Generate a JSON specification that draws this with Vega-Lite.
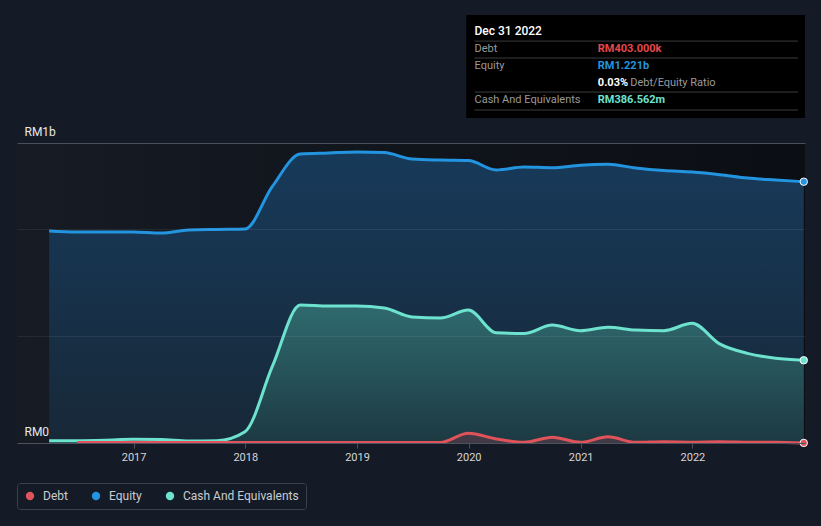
{
  "$schema": "https://vega.github.io/schema/vega-lite/v6.json",
  "width": 788,
  "height": 428,
  "autosize": {"type": "none"},
  "padding": {"left": 17, "top": 15, "right": 16, "bottom": 83},
  "background": "#151b26",
  "config": {
    "view": {"stroke": null},
    "font": "Roboto",
    "legend": {
      "orient": "none",
      "legendX": 0,
      "legendY": 468,
      "direction": "horizontal",
      "strokeColor": "#3b414c",
      "cornerRadius": 3,
      "padding": 7,
      "symbolType": "circle",
      "symbolSize": 70,
      "symbolStrokeWidth": 0,
      "symbolOpacity": 1,
      "labelColor": "#c9ccd1",
      "labelFontSize": 12,
      "labelOffset": 7,
      "columnPadding": 22,
      "title": null
    }
  },
  "data": {
    "format": {"parse": {"date": "date"}},
    "values": [
      {"date": "2016-03-31", "Equity": 991000000, "Cash And Equivalents": 11000000, "Debt": null},
      {"date": "2016-06-30", "Equity": 986000000, "Cash And Equivalents": 11000000, "Debt": 2000000},
      {"date": "2016-09-30", "Equity": 986000000, "Cash And Equivalents": 13000000, "Debt": 2000000},
      {"date": "2016-12-31", "Equity": 986000000, "Cash And Equivalents": 17000000, "Debt": 2000000},
      {"date": "2017-03-31", "Equity": 981000000, "Cash And Equivalents": 16000000, "Debt": 2000000},
      {"date": "2017-06-30", "Equity": 995000000, "Cash And Equivalents": 9000000, "Debt": 2000000},
      {"date": "2017-09-30", "Equity": 998000000, "Cash And Equivalents": 11000000, "Debt": 2000000},
      {"date": "2017-12-31", "Equity": 1000000000, "Cash And Equivalents": 53000000, "Debt": 2000000},
      {"date": "2018-03-31", "Equity": 1200000000, "Cash And Equivalents": 360000000, "Debt": 2000000},
      {"date": "2018-06-30", "Equity": 1350000000, "Cash And Equivalents": 645000000, "Debt": 2000000},
      {"date": "2018-09-30", "Equity": 1355000000, "Cash And Equivalents": 640000000, "Debt": 2000000},
      {"date": "2018-12-31", "Equity": 1360000000, "Cash And Equivalents": 640000000, "Debt": 2000000},
      {"date": "2019-03-31", "Equity": 1357000000, "Cash And Equivalents": 631000000, "Debt": 2000000},
      {"date": "2019-06-30", "Equity": 1327000000, "Cash And Equivalents": 589000000, "Debt": 2000000},
      {"date": "2019-09-30", "Equity": 1322000000, "Cash And Equivalents": 584000000, "Debt": 2000000},
      {"date": "2019-12-31", "Equity": 1320000000, "Cash And Equivalents": 621000000, "Debt": 45000000},
      {"date": "2020-03-31", "Equity": 1276000000, "Cash And Equivalents": 515000000, "Debt": 19000000},
      {"date": "2020-06-30", "Equity": 1290000000, "Cash And Equivalents": 512000000, "Debt": 3000000},
      {"date": "2020-09-30", "Equity": 1286000000, "Cash And Equivalents": 551000000, "Debt": 27000000},
      {"date": "2020-12-31", "Equity": 1298000000, "Cash And Equivalents": 525000000, "Debt": 3000000},
      {"date": "2021-03-31", "Equity": 1302000000, "Cash And Equivalents": 541000000, "Debt": 29000000},
      {"date": "2021-06-30", "Equity": 1285000000, "Cash And Equivalents": 528000000, "Debt": 3000000},
      {"date": "2021-09-30", "Equity": 1273000000, "Cash And Equivalents": 525000000, "Debt": 6000000},
      {"date": "2021-12-31", "Equity": 1266000000, "Cash And Equivalents": 559000000, "Debt": 4000000},
      {"date": "2022-03-31", "Equity": 1254000000, "Cash And Equivalents": 463000000, "Debt": 6000000},
      {"date": "2022-06-30", "Equity": 1238000000, "Cash And Equivalents": 419000000, "Debt": 4000000},
      {"date": "2022-09-30", "Equity": 1229000000, "Cash And Equivalents": 396000000, "Debt": 3000000},
      {"date": "2022-12-31", "Equity": 1221000000, "Cash And Equivalents": 386562000, "Debt": 403000}
    ]
  },
  "layer": [
    {
      "data": {"values": [{}]},
      "mark": {"type": "rect", "color": {"gradient": "linear", "x1": 0, "y1": 0, "x2": 1, "y2": 0, "stops": [{"offset": 0, "color": "#161b24"}, {"offset": 1, "color": "#0b0e13"}]}},
      "encoding": {
        "x": {"datum": {"year": 2015, "month": 12, "date": 17, "utc": true}, "type": "temporal", "title": null,
          "scale": {"type": "utc", "domain": [{"year": 2015, "month": 12, "date": 17, "utc": true}, {"year": 2023, "month": 1, "date": 4, "utc": true}]},
          "axis": {"values": [{"year": 2017, "utc": true}, {"year": 2018, "utc": true}, {"year": 2019, "utc": true}, {"year": 2020, "utc": true}, {"year": 2021, "utc": true}, {"year": 2022, "utc": true}],
            "format": "%Y", "zindex": 1, "grid": false, "domainColor": "#4b525d", "tickColor": "#4b525d", "tickSize": 5, "labelColor": "#d6d6d6", "labelFontSize": 11, "labelPadding": 3}},
        "x2": {"datum": {"year": 2023, "month": 1, "date": 4, "utc": true}},
        "y": {"datum": 0, "type": "quantitative", "title": null,
          "scale": {"domain": [0, 2000000000]},
          "axis": {"values": [0, 500000000, 1000000000, 1400000000],
            "labelExpr": "datum.value == 0 ? 'RM0' : (datum.value > 1300000000 ? 'RM1b' : '')",
            "zindex": 1, "domain": false, "ticks": false, "tickSize": 0, "grid": true,
            "gridColor": {"condition": {"test": "datum.value > 1300000000", "value": "#4a505a"}, "value": "#ffffff"},
            "gridOpacity": {"condition": {"test": "datum.value > 1300000000", "value": 1}, "value": 0.07},
            "labelAlign": "left", "labelBaseline": "bottom", "labelPadding": -7, "labelOffset": -5,
            "labelColor": "#e8e8e8", "labelFontSize": 12, "labelOverlap": false, "labelBound": false, "labelFlush": false}},
        "y2": {"datum": 1400000000}
      }
    },
    {
      "mark": {"type": "area", "interpolate": "monotone", "color": {"gradient": "linear", "x1": 0, "y1": 0, "x2": 0, "y2": 1, "stops": [{"offset": 0, "color": "#173a5a"}, {"offset": 1, "color": "#172838"}]}},
      "encoding": {
        "x": {"field": "date", "type": "temporal", "title": null},
        "y": {"field": "Equity", "type": "quantitative", "title": null}
      }
    },
    {
      "mark": {"type": "area", "interpolate": "monotone", "color": {"gradient": "linear", "x1": 0, "y1": 0, "x2": 0, "y2": 1, "stops": [{"offset": 0, "color": "#2f6a6f"}, {"offset": 1, "color": "#1d3942"}]}},
      "encoding": {
        "x": {"field": "date", "type": "temporal", "title": null},
        "y": {"field": "Cash And Equivalents", "type": "quantitative", "title": null}
      }
    },
    {
      "transform": [{"filter": "isValid(datum.Debt)"}],
      "mark": {"type": "area", "interpolate": "monotone", "color": "#5a3a48", "opacity": 0.6},
      "encoding": {
        "x": {"field": "date", "type": "temporal", "title": null},
        "y": {"field": "Debt", "type": "quantitative", "title": null}
      }
    },
    {
      "transform": [{"fold": ["Equity", "Cash And Equivalents", "Debt"], "as": ["series", "value"]}, {"filter": "isValid(datum.value)"}],
      "mark": {"type": "line", "interpolate": "monotone", "strokeWidth": 3},
      "encoding": {
        "x": {"field": "date", "type": "temporal", "title": null},
        "y": {"field": "value", "type": "quantitative", "title": null},
        "color": {"field": "series", "type": "nominal", "title": null,
          "scale": {"domain": ["Debt", "Equity", "Cash And Equivalents"], "range": ["#e0535a", "#2394df", "#6de2cf"]}}
      }
    },
    {
      "transform": [{"fold": ["Debt", "Equity", "Cash And Equivalents"], "as": ["series", "value"]}, {"filter": "datum.date > datetime(2022, 10, 1)"}],
      "mark": {"type": "point", "filled": true, "size": 55, "stroke": "#ffffff", "strokeWidth": 1, "opacity": 1},
      "encoding": {
        "x": {"field": "date", "type": "temporal", "title": null},
        "y": {"field": "value", "type": "quantitative", "title": null},
        "color": {"field": "series", "type": "nominal", "title": null}
      }
    },
    {
      "data": {"values": [{}]},
      "mark": {"type": "rect", "color": "#000000"},
      "encoding": {
        "x": {"datum": {"year": 2019, "month": 12, "date": 24, "utc": true}, "type": "temporal", "title": null},
        "x2": {"datum": {"year": 2023, "month": 1, "date": 4, "utc": true}},
        "y": {"datum": 2000000000, "type": "quantitative", "title": null},
        "y2": {"datum": 1519000000}
      }
    },
    {
      "data": {"values": [{}]},
      "mark": {"type": "rule", "color": "#3c3c3c", "strokeWidth": 1},
      "encoding": {
        "x": {"datum": {"year": 2020, "month": 1, "date": 20, "utc": true}, "type": "temporal", "title": null},
        "x2": {"datum": {"year": 2022, "month": 12, "date": 12, "utc": true}},
        "y": {"datum": 1878000000, "type": "quantitative", "title": null}
      }
    },
    {
      "data": {"values": [{}]},
      "mark": {"type": "rule", "color": "#3c3c3c", "strokeWidth": 1},
      "encoding": {
        "x": {"datum": {"year": 2020, "month": 1, "date": 20, "utc": true}, "type": "temporal", "title": null},
        "x2": {"datum": {"year": 2022, "month": 12, "date": 12, "utc": true}},
        "y": {"datum": 1799000000, "type": "quantitative", "title": null}
      }
    },
    {
      "data": {"values": [{}]},
      "mark": {"type": "rule", "color": "#3c3c3c", "strokeWidth": 1},
      "encoding": {
        "x": {"datum": {"year": 2020, "month": 1, "date": 20, "utc": true}, "type": "temporal", "title": null},
        "x2": {"datum": {"year": 2022, "month": 12, "date": 12, "utc": true}},
        "y": {"datum": 1640000000, "type": "quantitative", "title": null}
      }
    },
    {
      "data": {"values": [{}]},
      "mark": {"type": "rule", "color": "#3c3c3c", "strokeWidth": 1},
      "encoding": {
        "x": {"datum": {"year": 2020, "month": 1, "date": 20, "utc": true}, "type": "temporal", "title": null},
        "x2": {"datum": {"year": 2022, "month": 12, "date": 12, "utc": true}},
        "y": {"datum": 1556000000, "type": "quantitative", "title": null}
      }
    },
    {
      "data": {"values": [{"t": "Dec 31 2022"}]},
      "mark": {"type": "text", "align": "left", "baseline": "middle", "fontSize": 12, "fontWeight": 500, "color": "#ffffff"},
      "encoding": {
        "x": {"datum": {"year": 2020, "month": 1, "date": 20, "utc": true}, "type": "temporal", "title": null},
        "y": {"datum": 1925000000, "type": "quantitative", "title": null},
        "text": {"field": "t"}
      }
    },
    {
      "data": {"values": [{"t": "Debt"}]},
      "mark": {"type": "text", "align": "left", "baseline": "middle", "fontSize": 11, "color": "#9a9a9a"},
      "encoding": {
        "x": {"datum": {"year": 2020, "month": 1, "date": 20, "utc": true}, "type": "temporal", "title": null},
        "y": {"datum": 1841000000, "type": "quantitative", "title": null},
        "text": {"field": "t"}
      }
    },
    {
      "data": {"values": [{"t": "Equity"}]},
      "mark": {"type": "text", "align": "left", "baseline": "middle", "fontSize": 11, "color": "#9a9a9a"},
      "encoding": {
        "x": {"datum": {"year": 2020, "month": 1, "date": 20, "utc": true}, "type": "temporal", "title": null},
        "y": {"datum": 1762000000, "type": "quantitative", "title": null},
        "text": {"field": "t"}
      }
    },
    {
      "data": {"values": [{"t": "Cash And Equivalents"}]},
      "mark": {"type": "text", "align": "left", "baseline": "middle", "fontSize": 11, "color": "#9a9a9a"},
      "encoding": {
        "x": {"datum": {"year": 2020, "month": 1, "date": 20, "utc": true}, "type": "temporal", "title": null},
        "y": {"datum": 1603000000, "type": "quantitative", "title": null},
        "text": {"field": "t"}
      }
    },
    {
      "data": {"values": [{"t": "RM403.000k"}]},
      "mark": {"type": "text", "align": "left", "baseline": "middle", "fontSize": 11, "fontWeight": "bold", "color": "#e5484d"},
      "encoding": {
        "x": {"datum": {"year": 2021, "month": 2, "date": 26, "utc": true}, "type": "temporal", "title": null},
        "y": {"datum": 1841000000, "type": "quantitative", "title": null},
        "text": {"field": "t"}
      }
    },
    {
      "data": {"values": [{"t": "RM1.221b"}]},
      "mark": {"type": "text", "align": "left", "baseline": "middle", "fontSize": 11, "fontWeight": "bold", "color": "#2394df"},
      "encoding": {
        "x": {"datum": {"year": 2021, "month": 2, "date": 26, "utc": true}, "type": "temporal", "title": null},
        "y": {"datum": 1762000000, "type": "quantitative", "title": null},
        "text": {"field": "t"}
      }
    },
    {
      "data": {"values": [{"t": "0.03%"}]},
      "mark": {"type": "text", "align": "left", "baseline": "middle", "fontSize": 11, "fontWeight": "bold", "color": "#ffffff"},
      "encoding": {
        "x": {"datum": {"year": 2021, "month": 2, "date": 26, "utc": true}, "type": "temporal", "title": null},
        "y": {"datum": 1682000000, "type": "quantitative", "title": null},
        "text": {"field": "t"}
      }
    },
    {
      "data": {"values": [{"t": "Debt/Equity Ratio"}]},
      "mark": {"type": "text", "align": "left", "baseline": "middle", "fontSize": 11, "color": "#9a9a9a"},
      "encoding": {
        "x": {"datum": {"year": 2021, "month": 6, "date": 12, "utc": true}, "type": "temporal", "title": null},
        "y": {"datum": 1682000000, "type": "quantitative", "title": null},
        "text": {"field": "t"}
      }
    },
    {
      "data": {"values": [{"t": "RM386.562m"}]},
      "mark": {"type": "text", "align": "left", "baseline": "middle", "fontSize": 11, "fontWeight": "bold", "color": "#6de2cf"},
      "encoding": {
        "x": {"datum": {"year": 2021, "month": 2, "date": 26, "utc": true}, "type": "temporal", "title": null},
        "y": {"datum": 1603000000, "type": "quantitative", "title": null},
        "text": {"field": "t"}
      }
    }
  ]
}
